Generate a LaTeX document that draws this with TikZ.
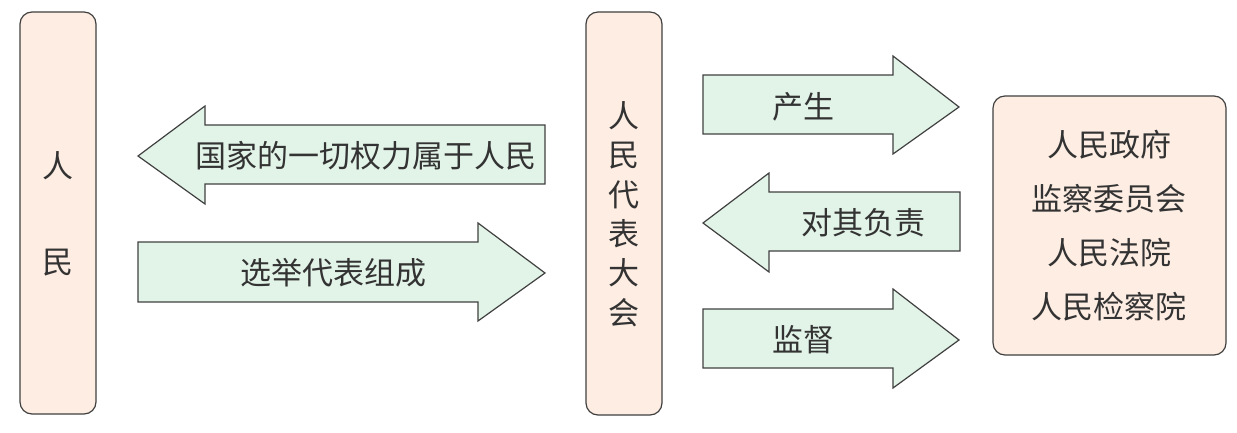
\documentclass[tikz,border=0pt]{standalone}
\usepackage{fontspec}
\newfontfamily\cjk{Noto Sans CJK SC}
\definecolor{boxfill}{HTML}{FDEDE3}
\definecolor{arrfill}{HTML}{E2F3E8}
\definecolor{edge}{HTML}{404040}
\tikzset{
  panel/.style={draw=edge, fill=boxfill, line width=1.2pt, rounded corners=12pt},
  blockarrow/.style={draw=edge, fill=arrfill, line width=1.2pt},
  lbl/.style={font=\cjk\fontsize{31}{36}\selectfont, text=black!80, inner sep=0pt}
}
\begin{document}
\begin{tikzpicture}[x=1pt,y=-1pt]
\useasboundingbox (0,0) rectangle (1237,433);
% panels
\draw[panel] (20,12) rectangle (96,414);
\node[lbl, align=center, font=\cjk\fontsize{31}{96}\selectfont] (renmin) at (58,214) {人\\民};
\draw[panel] (586,12) rectangle (662,415);
\node[lbl, align=center, font=\cjk\fontsize{31}{39.4}\selectfont] (rendahui) at (624,214) {人\\民\\代\\表\\大\\会};
\draw[panel] (993,96) rectangle (1226,355);
\node[lbl, align=center, font=\cjk\fontsize{31}{54}\selectfont] (organs) at (1109,226) {人民政府\\监察委员会\\人民法院\\人民检察院};
% arrows
\draw[blockarrow] (138,156) -- (205,106) -- (205,125) -- (545,125) -- (545,184) -- (205,184) -- (205,204) -- cycle;
\node[lbl] (t1) at (366,156) {国家的一切权力属于人民};
\draw[blockarrow] (138,242) -- (478,242) -- (478,223) -- (545,273) -- (478,321) -- (478,302) -- (138,302) -- cycle;
\node[lbl] (t2) at (333,273) {选举代表组成};
\draw[blockarrow] (703,75) -- (893,75) -- (893,56) -- (959,107) -- (893,154) -- (893,134) -- (703,134) -- cycle;
\node[lbl] (t3) at (803,107) {产生};
\draw[blockarrow] (703,223) -- (769,173) -- (769,192) -- (960,192) -- (960,251) -- (769,251) -- (769,272) -- cycle;
\node[lbl] (t4) at (863,223) {对其负责};
\draw[blockarrow] (703,309) -- (893,309) -- (893,289) -- (959,340) -- (893,388) -- (893,368) -- (703,368) -- cycle;
\node[lbl] (t5) at (803,340) {监督};
\end{tikzpicture}
\end{document}
